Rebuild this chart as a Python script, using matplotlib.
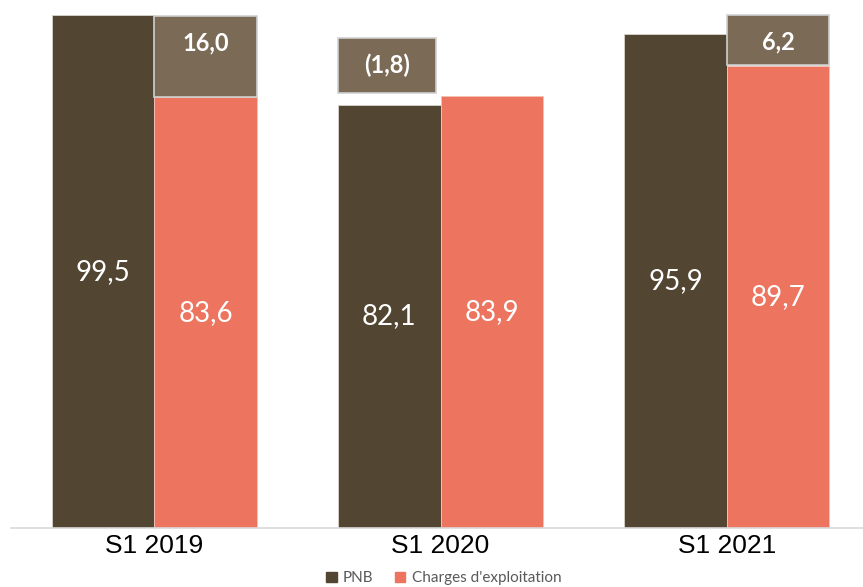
#!/usr/bin/env python3
"""PNB vs charges d'exploitation, S1 2019-2021 (barres groupées + écart)."""
import matplotlib

matplotlib.use("Agg")
import matplotlib.pyplot as plt
from matplotlib.patches import Patch, Rectangle
import numpy as np

matplotlib.rcParams["font.family"] = ["Liberation Sans", "DejaVu Sans"]

periods = ["S1 2019", "S1 2020", "S1 2021"]
pnb = [99.5, 82.1, 95.9]
charges = [83.6, 83.9, 89.7]
ecart_labels = ["16,0", "(1,8)", "6,2"]

C_PNB = "#524632"
C_CHG = "#ED7560"
C_BOX = "#7A6A56"
LATO = ["Lato", "DejaVu Sans"]


def fmt(v):
    return f"{v:.1f}".replace(".", ",")


def main():
    fig = plt.figure(figsize=(8.63, 5.87), dpi=100)
    ax = fig.add_axes([11 / 863, 59 / 587, 1 - 11 / 863, 528 / 587])

    x = np.arange(len(periods))
    w = 0.358
    ax.bar(x - w / 2, pnb, w, color=C_PNB, edgecolor="#d8d4cc", linewidth=0.6)
    ax.bar(x + w / 2, charges, w, color=C_CHG, edgecolor="#f3c2b8", linewidth=0.6)

    for i in range(len(periods)):
        ax.text(x[i] - w / 2, pnb[i] / 2, fmt(pnb[i]), color="white",
                ha="center", va="center", fontsize=20, family=LATO)
        ax.text(x[i] + w / 2, charges[i] / 2, fmt(charges[i]), color="white",
                ha="center", va="center", fontsize=20, family=LATO)

        # boîte d'écart : au-dessus de la barre la plus basse
        diff = pnb[i] - charges[i]
        bottom = charges[i] + (0.1 if diff > 5 else 0.6)
        h = max(abs(diff) - 0.3, 9.8) if diff > 5 else 10.6
        bx = x[i] + w / 2 if diff > 0 else x[i] - w / 2
        bw = w if diff > 0 else w * 0.96
        left = bx - w / 2
        ax.add_patch(Rectangle((left, bottom), bw, h, facecolor=C_BOX,
                               edgecolor="#cfcfcf", linewidth=1.2, zorder=3))
        ax.text(left + bw / 2, bottom + h - 5.2, ecart_labels[i], color="white",
                ha="center", va="center", fontsize=17, fontweight="bold",
                family=LATO, zorder=4)

    ax.set_xlim(-0.5, 2.475)
    ax.set_ylim(0, 102.5)
    ax.set_xticks(x)
    ax.set_xticklabels(periods, fontsize=19)
    ax.tick_params(axis="x", length=0, pad=4)
    ax.set_yticks([])
    for s in ["top", "right", "left"]:
        ax.spines[s].set_visible(False)
    ax.spines["bottom"].set_color("#d9d9d9")
    ax.spines["bottom"].set_linewidth(1.2)

    handles = [Patch(color=C_PNB, label="PNB"),
               Patch(color=C_CHG, label="Charges d'exploitation")]
    leg = fig.legend(handles=handles, loc="center", bbox_to_anchor=(0.514, 0.015),
                     ncol=2, frameon=False, handlelength=0.7,
                     handleheight=0.7, handletextpad=0.4, columnspacing=1.4,
                     prop={"family": LATO, "size": 11})
    for t in leg.get_texts():
        t.set_color("#595959")

    fig.savefig("out.png", dpi=100)


if __name__ == "__main__":
    main()
